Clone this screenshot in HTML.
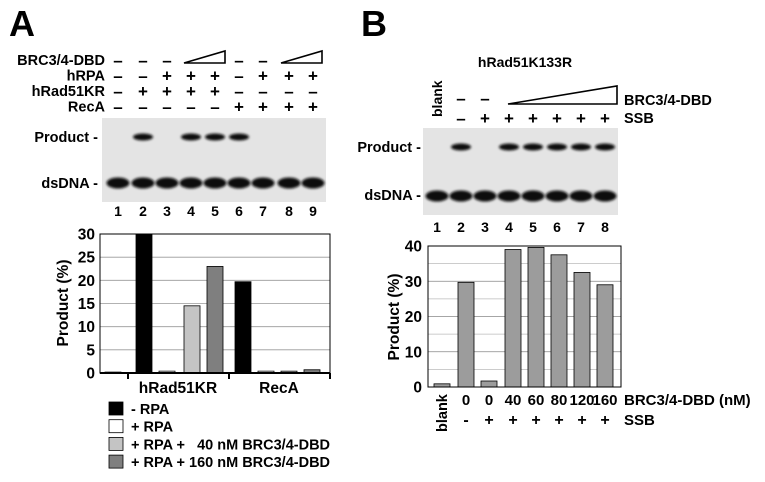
<!DOCTYPE html>
<html><head><meta charset="utf-8"><style>
body{margin:0;background:#fff}
svg{display:block;font-family:"Liberation Sans",Arial,sans-serif;font-weight:bold}
text{white-space:pre}
</style></head><body>
<svg id="fig" width="765" height="482" viewBox="0 0 765 482">
<defs><filter id="blur" x="-20%" y="-50%" width="140%" height="200%"><feGaussianBlur stdDeviation="1.2"/></filter></defs>
<text x="9" y="36" font-size="36">A</text>
<text x="361" y="36" font-size="36">B</text>
<g id="ga"></g><g id="gb"></g>
</svg>
<script>
const NS='http://www.w3.org/2000/svg';
function mk(p,t,a,txt){const e=document.createElementNS(NS,t);for(const k in a)e.setAttribute(k,a[k]);if(txt!==undefined)e.textContent=txt;p.appendChild(e);return e;}
// ---------- Panel A data ----------
const laneA=[118,143,167,191,215,239,263,289,313];
const rowLabelsA=['BRC3/4-DBD','hRPA','hRad51KR','RecA'];
const rowMarksA=[['-','-','-','t','t','-','-','t','t'],['-','-','+','+','+','-','+','+','+'],['-','+','+','+','+','-','-','-','-'],['-','-','-','-','-','+','+','+','+']];
const productA=[0,1,0,0.8,0.9,0.9,0,0,0];
const valuesA=[0.2,30,0.4,14.5,23,19.7,0.4,0.4,0.7];
const colorsA=['#aaa','#000','#fff','#c4c4c4','#7f7f7f','#000','#fff','#c4c4c4','#7f7f7f'];
const ticksA=[0,5,10,15,20,25,30];
const groupsA=['hRad51KR','RecA'];
const legendA=['- RPA','+ RPA','+ RPA +   40 nM BRC3/4-DBD','+ RPA + 160 nM BRC3/4-DBD'];
const legendColA=['#000','#fff','#c4c4c4','#7f7f7f'];
// ---------- Panel B data ----------
const laneB=[437,461,485,509,533,557,581,605];
const productB=[0,0.8,0,1,1,1,1,1];
const valuesB=[0.9,29.7,1.7,39,39.6,37.5,32.5,29];
const ticksB=[0,10,20,30,40];
const concB=['0','0','40','60','80','120','160'];
const ssbB=['-','+','+','+','+','+','+'];

const ga=document.getElementById('ga'), gb=document.getElementById('gb');
function gel(g,x0,x1,y0,y1,lanes,prod,py,dy,name){
  const r=mk(g,'rect',{x:x0,y:y0,width:x1-x0,height:y1-y0,fill:'#e4e4e4'});
  
  
  lanes.forEach((x,i)=>{
    if(prod[i]>0){const b=mk(g,'ellipse',{cx:x,cy:py,rx:10,ry:3.5,fill:'#111',filter:'url(#blur)'});
      
      }
    const d=mk(g,'ellipse',{cx:x,cy:dy,rx:11.5,ry:5.5,fill:'#111',filter:'url(#blur)'});
    
    
  });
}
// Panel A header
rowLabelsA.forEach((l,r)=>{const y=65+r*15.5;
  const t=mk(ga,'text',{x:105,y:y,'font-size':14.5,'text-anchor':'end'},l);
  
  
  rowMarksA[r].forEach((m,i)=>{if(m!=='t'){const s=mk(ga,'text',{x:laneA[i],y:y+1,'font-size':17,'text-anchor':'middle'},m==='-'?'–':'+');
    
    }});
});
[[184,225],[281,322]].forEach(([a,b])=>{const p=mk(ga,'polygon',{points:`${a},63 ${b},51 ${b},63`,fill:'none',stroke:'#000','stroke-width':1.6});
  
  });
gel(ga,102,326,118,202,laneA,productA,137,183,'gel-a');
mk(ga,'text',{x:98,y:142,'font-size':14.5,'text-anchor':'end'},'Product -');
mk(ga,'text',{x:98,y:188,'font-size':14.5,'text-anchor':'end'},'dsDNA -');
laneA.forEach((x,i)=>mk(ga,'text',{x:x,y:216,'font-size':14,'text-anchor':'middle'},i+1));
// Chart A
const yA=v=>373-(v/30)*139;
ticksA.forEach(t=>{if(t>0)mk(ga,'line',{x1:100,x2:330,y1:yA(t),y2:yA(t),stroke:'#999','stroke-width':0.8});
  mk(ga,'text',{x:95,y:yA(t)+5.5,'font-size':15.5,'text-anchor':'end'},t);});
const barXA=[105,136,159,184,207,235,258,281,304];
valuesA.forEach((v,i)=>{const b=mk(ga,'rect',{x:barXA[i],y:yA(v),width:16,height:373-yA(v),fill:colorsA[i],stroke:'#000','stroke-width':0.8});
  
  });
mk(ga,'rect',{x:100,y:234,width:230,height:139,fill:'none',stroke:'#000','stroke-width':1});
mk(ga,'line',{x1:100,x2:330,y1:373,y2:373,stroke:'#000','stroke-width':2});
[128,229,330].forEach(x=>mk(ga,'line',{x1:x,x2:x,y1:373,y2:379,stroke:'#000','stroke-width':2}));
groupsA.forEach((g,i)=>mk(ga,'text',{x:[178,279][i],y:393,'font-size':15.5,'text-anchor':'middle'},g));
mk(ga,'text',{x:0,y:0,'font-size':15.5,'text-anchor':'middle',transform:'translate(68,303) rotate(-90)'},'Product (%)');
legendA.forEach((l,i)=>{const y=402+i*17.7;
  const s=mk(ga,'rect',{x:109,y:y,width:14,height:13,fill:legendColA[i],stroke:'#000','stroke-width':0.8});
  
  
  const t=mk(ga,'text',{x:131,y:y+12,'font-size':14.5},l);
  
  });
// Panel B header
mk(gb,'text',{x:525,y:67,'font-size':14,'text-anchor':'middle'},'hRad51K133R');
mk(gb,'text',{x:0,y:0,'font-size':14,transform:'translate(442,117) rotate(-90)'},'blank');
[461,485].forEach(x=>mk(gb,'text',{x:x,y:104,'font-size':17,'text-anchor':'middle'},'–'));
laneB.forEach((x,i)=>{if(i>0)mk(gb,'text',{x:x,y:124,'font-size':17,'text-anchor':'middle'},i===1?'–':'+');});
const w=mk(gb,'polygon',{points:'508,104 617,86 617,104',fill:'none',stroke:'#000','stroke-width':1.6});


mk(gb,'text',{x:624,y:105,'font-size':14.5},'BRC3/4-DBD');
mk(gb,'text',{x:624,y:123,'font-size':14.5},'SSB');
gel(gb,423,618,128,215,laneB,productB,147,196,'gel-b');
mk(gb,'text',{x:421,y:152,'font-size':14.5,'text-anchor':'end'},'Product -');
mk(gb,'text',{x:421,y:200,'font-size':14.5,'text-anchor':'end'},'dsDNA -');
laneB.forEach((x,i)=>mk(gb,'text',{x:x,y:232,'font-size':14,'text-anchor':'middle'},i+1));
// Chart B
const yB=v=>387-(v/40)*141;
for(let t=5;t<=40;t+=5)mk(gb,'line',{x1:428,x2:621,y1:yB(t),y2:yB(t),stroke:t%10?'#bbb':'#888','stroke-width':0.8});
ticksB.forEach(t=>mk(gb,'text',{x:422,y:yB(t)+5.5,'font-size':15.5,'text-anchor':'end'},t));
const barXB=[434,458,481,505,528,551,574,597];
valuesB.forEach((v,i)=>{const b=mk(gb,'rect',{x:barXB[i],y:yB(v),width:16,height:387-yB(v),fill:'#9c9c9c',stroke:'#000','stroke-width':0.8});
  
  });
mk(gb,'rect',{x:428,y:246,width:193,height:141,fill:'none',stroke:'#000','stroke-width':1});
mk(gb,'text',{x:0,y:0,'font-size':15.5,'text-anchor':'middle',transform:'translate(399,317) rotate(-90)'},'Product (%)');
concB.forEach((c,i)=>mk(gb,'text',{x:barXB[i+1]+8,y:405,'font-size':15,'text-anchor':'middle'},c));
ssbB.forEach((c,i)=>mk(gb,'text',{x:barXB[i+1]+8,y:425,'font-size':16,'text-anchor':'middle'},c));
mk(gb,'text',{x:0,y:0,'font-size':14.5,transform:'translate(447,432) rotate(-90)'},'blank');
mk(gb,'text',{x:624,y:405,'font-size':15},'BRC3/4-DBD (nM)');
mk(gb,'text',{x:624,y:425,'font-size':15},'SSB');
</script>
</body></html>
